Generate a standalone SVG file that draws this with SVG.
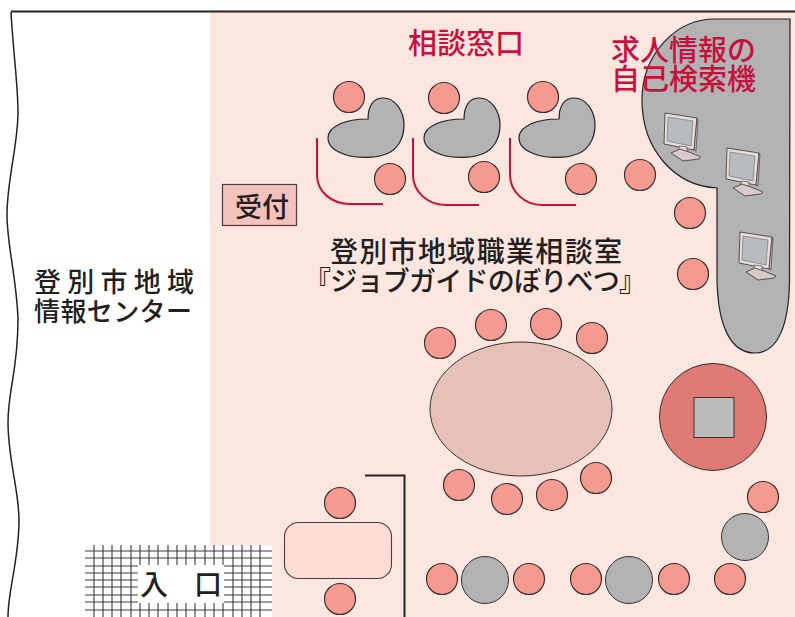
<svg xmlns="http://www.w3.org/2000/svg" width="795" height="617" viewBox="0 0 795 617">
<style>
.s{fill:#f59a90;stroke:#3a3030;stroke-width:1.2}
.g{fill:#b3b3b3;stroke:#222;stroke-width:1.2}
.gc{fill:#b3b3b3;stroke:#333;stroke-width:1}
.t{font-family:"Noto Sans CJK JP","Noto Sans CJK SC",sans-serif;font-size:24px;font-weight:500;fill:#231f20}
.r{font-family:"Noto Sans CJK JP","Noto Sans CJK SC",sans-serif;font-size:29px;font-weight:500;fill:#c8103c}
.cv{fill:none;stroke:#c8103c;stroke-width:2}
.gl{stroke:#3a3a3a;stroke-width:1.1;fill:none}
</style>
<defs>
<path id="desk" class="g" d="M368 119C368 105 374 98 383 98C396 98 404 112 404 125C404 140 396 152 383 155C375 158 358 158 350 156C338 153 328 147 328 138C328 126 346 119 368 119Z"/>
<g id="mon">
<path d="M0 0L32 5L29 37L-1 31Z" fill="#e8dcdc" stroke="#333" stroke-width=".8"/>
<path d="M32 5L33 6L31 38L29 37Z" fill="#bfb5b5" stroke="#333" stroke-width=".6"/>
<path d="M3 4L28 8L26 33L2 28Z" fill="#b8bcbe" stroke="#555" stroke-width=".5"/>
<path d="M14 33L22 34L22 41L14 39Z" fill="#e8dcdc" stroke="#333" stroke-width=".6"/>
<path d="M6 40L15 36L24 39L36 44L34 46L18 48Z" fill="#d8caca" stroke="#333" stroke-width=".8"/>
</g>
</defs>
<rect width="795" height="617" fill="#fff"/>
<rect id="floor" x="210" y="12" width="585" height="605" fill="#fce6e0"/>
<path id="wall" d="M11 12C13 50 18 85 18 112C18 145 7 180 7 215C7 245 17 280 18 320C18 370 8 390 8 422C8 460 19 490 19 520C19 560 8 590 8 617" fill="none" stroke="#222" stroke-width="1.500"/>
<path d="M11 11.500H795" fill="none" stroke="#222" stroke-width="2"/>
<g id="kiosk-area">
<path class="g" d="M790 19H715C675 19 642 55 642 100C642 150 675 186 717 188V280C718 325 730 353 755 353C778 353 789 325 789.500 280Z"/>
<use href="#mon" x="665" y="113"/>
<use href="#mon" x="727" y="148"/>
<use href="#mon" x="740" y="232"/>
</g>
<g id="counter-desks">
<use href="#desk"/>
<use href="#desk" x="96"/>
<use href="#desk" x="191"/>
</g>
<g id="chairs-top">
<circle class="s" cx="349" cy="97" r="15.500"/><circle class="s" cx="390" cy="179" r="15.500"/>
<circle class="s" cx="444" cy="98" r="15.500"/><circle class="s" cx="484" cy="177" r="15.500"/>
<circle class="s" cx="543" cy="97" r="15.500"/><circle class="s" cx="581" cy="179" r="15.500"/>
<circle class="s" cx="640" cy="175" r="15.500"/><circle class="s" cx="690" cy="213" r="15.500"/><circle class="s" cx="693" cy="274" r="15.500"/>
</g>
<g id="counter-lines">
<path class="cv" d="M317 138V175C317 192 332 204 350 204H383"/>
<path class="cv" d="M413 138V175C413 192 428 205 446 205H479"/>
<path class="cv" d="M510 138V175C510 192 525 205 542 205H576"/>
</g>
<g id="reception"><rect x="222.500" y="184.500" width="74" height="41" fill="#f4c2bc" stroke="#4a3c3c" stroke-width="1.200"/><text class="t" x="235" y="217" style="font-size:27px">受付</text></g>
<g id="meeting-table">
<ellipse cx="521" cy="409" rx="91" ry="67" fill="#e6c1b8" stroke="#3a3030" stroke-width="1"/>
<circle class="s" cx="440" cy="343" r="15.500"/><circle class="s" cx="491" cy="325" r="15.500"/><circle class="s" cx="546" cy="324" r="15.500"/><circle class="s" cx="592" cy="338" r="15.500"/>
<circle class="s" cx="459" cy="485" r="15.500"/><circle class="s" cx="507" cy="499" r="15.500"/><circle class="s" cx="552" cy="495" r="15.500"/><circle class="s" cx="596" cy="478" r="15.500"/>
</g>
<g id="pillar"><circle cx="713" cy="417" r="53.500" fill="#e07a74" stroke="#3a3030" stroke-width="1"/><rect x="694" y="397.500" width="40" height="40" fill="#bcbcbe" stroke="#333" stroke-width="1"/></g>
<g id="bottom-seats">
<circle class="s" cx="442" cy="579" r="15.500"/><circle class="gc" cx="485" cy="580" r="23.500"/><circle class="s" cx="529" cy="579" r="15.500"/>
<circle class="s" cx="586" cy="579" r="15.500"/><circle class="gc" cx="629" cy="580" r="23.500"/><circle class="s" cx="674" cy="579" r="15.500"/>
<circle class="s" cx="730" cy="579" r="15.500"/><circle class="gc" cx="745" cy="537" r="23.500"/><circle class="s" cx="763" cy="497" r="15.500"/>
</g>
<g id="entry-desk">
<circle class="s" cx="340" cy="503" r="15.500"/>
<rect x="284.500" y="522.500" width="107" height="56" rx="14" fill="#fddcd6" stroke="#4a3c3c" stroke-width="1.100"/>
<circle class="s" cx="340" cy="599" r="15.500"/>
<path d="M365 475.500H404.500V617" fill="none" stroke="#222" stroke-width="2"/>
</g>
<g id="entrance">
<rect x="85" y="545" width="187" height="72" fill="#fff"/>
<path class="gl" d="M85 551H272M85 558H272M85 566H272M85 573H272M85 580H272M85 587H272M85 595H272M85 602H272M85 610H272"/>
<path class="gl" d="M94 545V617M103 545V617M112 545V617M121 545V617M131 545V617M140 545V617M149 545V617M158 545V617M168 545V617M177 545V617M186 545V617M195 545V617M205 545V617M214 545V617M223 545V617M233 545V617M242 545V617M251 545V617M260 545V617"/>
<rect x="138" y="565" width="86" height="38" fill="#fff"/>
<text class="t" x="140" y="595" style="font-size:28px">入</text>
<text class="t" x="194" y="595" style="font-size:28px">口</text>
</g>
<g id="labels">
<text class="r" x="408" y="54">相談窓口</text>
<text class="r" x="611" y="61">求人情報の</text>
<text class="r" x="611" y="90">自己検索機</text>
<text class="t" x="330" y="262" style="font-size:28px" textLength="292">登別市地域職業相談室</text>
<text class="t" x="304" y="291" style="font-size:27px" textLength="342">『ジョブガイドのぼりべつ』</text>
<text class="t" x="34" y="292" style="font-size:27px" textLength="160">登別市地域</text>
<text class="t" x="34" y="321" style="font-size:26px" textLength="158">情報センター</text>
</g>
</svg>
